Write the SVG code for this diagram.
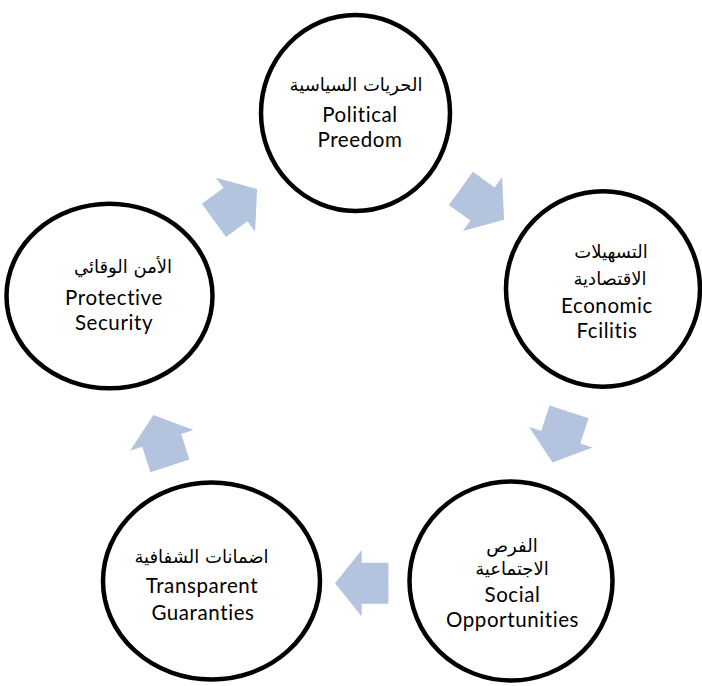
<svg xmlns="http://www.w3.org/2000/svg" width="702" height="686" viewBox="0 0 702 686">
<style>
.node ellipse{fill:#fff;stroke:#000;stroke-width:4.5}
.en{font-family:Lato,"Liberation Sans",sans-serif;font-size:20.5px;letter-spacing:0.6px;fill:#000;text-anchor:middle}
.ar{font-family:"DejaVu Sans",sans-serif;font-size:18px;fill:#000;text-anchor:middle}
.arrow{fill:#B4C4DE}
</style>
<defs>
<path id="arr" d="M-26.7,-20.5 L0,-20.5 L0,-33.3 L26.7,0 L0,33.3 L0,20.5 L-26.7,20.5 Z"/>
</defs>
<g id="connectors" class="arrow">
<use href="#arr" transform="translate(235.5,204.7) rotate(-36)"/>
<use href="#arr" transform="translate(482.5,204) rotate(36)"/>
<use href="#arr" transform="translate(560.8,437.2) rotate(108)"/>
<use href="#arr" transform="translate(361.7,583.3) rotate(180)"/>
<use href="#arr" transform="translate(161.7,440.4) rotate(252)"/>
</g>
<g id="political" class="node">
<ellipse cx="355.5" cy="113" rx="94.5" ry="98"/>
<text class="ar" x="356" y="91">الحريات السياسية</text>
<text class="en" x="360" y="121.5">Political</text>
<text class="en" x="360" y="146.5">Preedom</text>
</g>
<g id="economic" class="node">
<ellipse cx="603" cy="289" rx="97" ry="97.7"/>
<text class="ar" x="611" y="258">التسهيلات</text>
<text class="ar" x="610" y="285">الاقتصادية</text>
<text class="en" x="607" y="313">Economic</text>
<text class="en" x="607" y="338">Fcilitis</text>
</g>
<g id="social" class="node">
<ellipse cx="511" cy="581" rx="101.5" ry="99.5"/>
<text class="ar" x="512" y="551.5">الفرص</text>
<text class="ar" x="512" y="575">الاجتماعية</text>
<text class="en" x="512.5" y="601.5">Social</text>
<text class="en" x="512.5" y="626.5">Opportunities</text>
</g>
<g id="transparent" class="node">
<ellipse cx="211.5" cy="581" rx="108.5" ry="98.5"/>
<text class="ar" x="201.5" y="563">اضمانات الشفافية</text>
<text class="en" x="202" y="593">Transparent</text>
<text class="en" x="203" y="620">Guaranties</text>
</g>
<g id="protective" class="node">
<ellipse cx="109.5" cy="296" rx="103" ry="92.3"/>
<text class="ar" x="123" y="273">الأمن الوقائي</text>
<text class="en" x="114" y="305">Protective</text>
<text class="en" x="114" y="330">Security</text>
</g>
</svg>
